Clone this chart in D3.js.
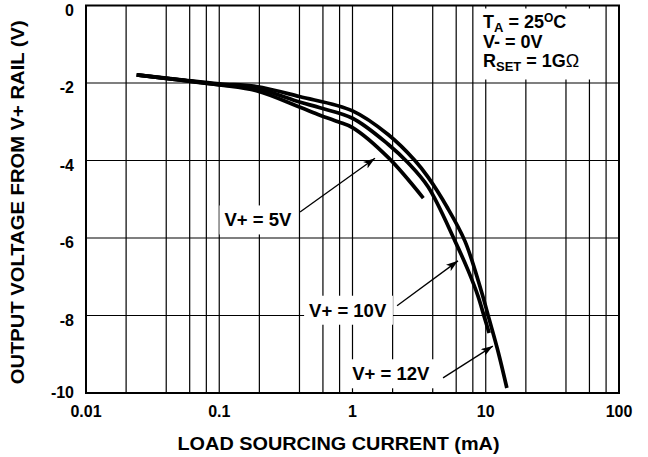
<!DOCTYPE html>
<html>
<head>
<meta charset="utf-8">
<script src="https://cdnjs.cloudflare.com/ajax/libs/d3/7.8.5/d3.min.js"></script>
<style>
  body { margin: 0; background: #fff; }
  text { font-family: "Liberation Sans", Arial, sans-serif; font-weight: bold; fill: #000; }
</style>
</head>
<body>
<div class="chart"></div>
<script>
// curves: load current (mA) and output voltage (V)
var cur5 = [0.024, 0.05, 0.1, 0.19, 0.4, 0.57, 0.78, 1.0, 1.85, 3.4];
var volt5 = [-1.79, -1.92, -2.05, -2.2, -2.62, -2.83, -3.0, -3.15, -3.92, -4.97];

var cur10 = [0.024, 0.05, 0.1, 0.19, 0.4, 0.57, 1.0, 1.85, 2.61, 3.69, 5.88, 7.36, 8.75, 9.7, 10.6];
var volt10 = [-1.79, -1.92, -2.04, -2.14, -2.49, -2.64, -2.91, -3.58, -4.06, -4.68, -6.08, -6.83, -7.5, -8.01, -8.45];

var cur12 = [0.024, 0.05, 0.1, 0.19, 0.4, 1.0, 1.85, 2.94, 3.69, 5.12, 6.98, 9.21, 10.6, 12.4, 14.4];
var volt12 = [-1.79, -1.91, -2.02, -2.09, -2.35, -2.72, -3.33, -4.0, -4.43, -5.2, -6.08, -7.34, -8.09, -8.94, -9.87];

var xTicks = [0.01, 0.1, 1, 10, 100];
var xTickLabels = ["0.01", "0.1", "1", "10", "100"];
var yTicks = [0, -2, -4, -6, -8, -10];
var xGrid = [0.02, 0.04, 0.06, 0.08, 0.1, 0.2, 0.4, 0.6, 0.8, 1, 2, 4, 6, 8, 10, 20, 40, 60, 80];

// labels: text, text centre (mA, V), arrow tail, arrow tip
var labelText = ["V+ = 5V", "V+ = 10V", "V+ = 12V"];
var labelPos = [[0.195, -5.53], [0.92, -7.86], [1.94, -9.5]];
var arrowFrom = [[0.404, -5.33], [2.16, -7.75], [4.78, -9.61]];
var arrowTo = [[1.475, -3.94], [6.19, -6.59], [11.3, -8.79]];

var margin = {top: 5.5, right: 29, bottom: 64, left: 86},
    width = 648 - margin.left - margin.right,
    height = 457 - margin.top - margin.bottom;

var svg = d3.select(".chart").append("svg")
    .attr("width", 648)
    .attr("height", 457)
  .append("g")
    .attr("transform", "translate(" + margin.left + "," + margin.top + ")");

var x = d3.scaleLog().domain([0.01, 100]).range([0, width]);
var y = d3.scaleLinear().domain([0, -10]).range([0, height]);

// grid
svg.selectAll(".vgrid")
    .data(xGrid)
  .enter().append("line")
    .attr("x1", function(d) { return x(d); })
    .attr("x2", function(d) { return x(d); })
    .attr("y1", 0)
    .attr("y2", height)
    .attr("stroke", "#000")
    .attr("stroke-width", 1.2);

svg.selectAll(".hgrid")
    .data(yTicks.slice(1, -1))
  .enter().append("line")
    .attr("x1", 0)
    .attr("x2", width)
    .attr("y1", function(d) { return y(d); })
    .attr("y2", function(d) { return y(d); })
    .attr("stroke", "#000")
    .attr("stroke-width", 1.2);

// conditions box
svg.append("rect")
    .attr("x", 390).attr("y", 3)
    .attr("width", 125).attr("height", 71)
    .attr("fill", "#fff");

var cond = svg.append("text")
    .attr("x", 397).attr("y", 22)
    .style("font-size", "18px");
cond.append("tspan").text("T");
cond.append("tspan").attr("dy", 4).style("font-size", "13px").text("A");
cond.append("tspan").attr("dy", -4).text(" = 25");
cond.append("tspan").attr("dy", -6).style("font-size", "12px").text("O");
cond.append("tspan").attr("dy", 6).text("C");

svg.append("text")
    .attr("x", 397).attr("y", 42)
    .style("font-size", "18px")
    .text("V- = 0V");

var rset = svg.append("text")
    .attr("x", 397).attr("y", 61.5)
    .style("font-size", "18px");
rset.append("tspan").text("R");
rset.append("tspan").attr("dy", 4).style("font-size", "13px").text("SET");
rset.append("tspan").attr("dy", -4).text(" = 1G");
rset.append("tspan").style("font-weight", "normal").text("\u03A9");

// frame
svg.append("rect")
    .attr("width", width)
    .attr("height", height)
    .attr("fill", "none")
    .attr("stroke", "#000")
    .attr("stroke-width", 2);

// curves
var line = d3.line()
    .curve(d3.curveCatmullRom.alpha(0.5))
    .x(function(d) { return x(d[0]); })
    .y(function(d) { return y(d[1]); });

var series = [[cur5, volt5], [cur10, volt10], [cur12, volt12]];
series.forEach(function(s) {
  svg.append("path")
      .datum(d3.zip(s[0], s[1]))
      .attr("fill", "none")
      .attr("stroke", "#000")
      .attr("stroke-width", 3.7)
      .attr("d", line);
});

// arrowhead
svg.append("defs").append("marker")
    .attr("id", "head")
    .attr("viewBox", "0 0 12 8")
    .attr("refX", 12).attr("refY", 4)
    .attr("markerWidth", 12).attr("markerHeight", 8)
    .attr("markerUnits", "userSpaceOnUse")
    .attr("orient", "auto")
  .append("path")
    .attr("d", "M0,0 L12,4 L0,8 L3,4 Z")
    .attr("fill", "#000");

for (var i = 0; i < labelText.length; i++) {
  var g = svg.append("g");
  var t = g.append("text")
      .attr("x", x(labelPos[i][0]))
      .attr("y", y(labelPos[i][1]))
      .attr("dy", "0.36em")
      .style("text-anchor", "middle")
      .style("font-size", "18.5px")
      .text(labelText[i]);
  var bb = t.node().getBBox();
  g.insert("rect", "text")
      .attr("x", bb.x - 5)
      .attr("y", bb.y - 4)
      .attr("width", bb.width + 11)
      .attr("height", bb.height + 8)
      .attr("fill", "#fff");
  svg.append("line")
      .attr("x1", x(arrowFrom[i][0]))
      .attr("y1", y(arrowFrom[i][1]))
      .attr("x2", x(arrowTo[i][0]))
      .attr("y2", y(arrowTo[i][1]))
      .attr("stroke", "#000")
      .attr("stroke-width", 1.3)
      .attr("marker-end", "url(#head)");
}

// tick labels
svg.selectAll(".xlab")
    .data(xTicks)
  .enter().append("text")
    .attr("x", function(d) { return x(d); })
    .attr("y", height + 24)
    .style("text-anchor", "middle")
    .style("font-size", "16px")
    .text(function(d, i) { return xTickLabels[i]; });

svg.selectAll(".ylab")
    .data(yTicks)
  .enter().append("text")
    .attr("x", -12)
    .attr("y", function(d) { return y(d) + (d == -10 ? 5 : 10); })
    .style("text-anchor", "end")
    .style("font-size", "16px")
    .text(function(d) { return d; });

svg.append("text")
    .attr("x", width / 2 - 14)
    .attr("y", height + 57)
    .attr("textLength", 322)
    .attr("lengthAdjust", "spacingAndGlyphs")
    .style("text-anchor", "middle")
    .style("font-size", "18px")
    .text("LOAD SOURCING CURRENT (mA)");

svg.append("text")
    .attr("transform", "translate(" + (-62) + "," + (height / 2 + 3) + ") rotate(-90)")
    .attr("textLength", 364)
    .attr("lengthAdjust", "spacingAndGlyphs")
    .style("text-anchor", "middle")
    .style("font-size", "18px")
    .text("OUTPUT VOLTAGE FROM V+ RAIL (V)");
</script>
</body>
</html>
